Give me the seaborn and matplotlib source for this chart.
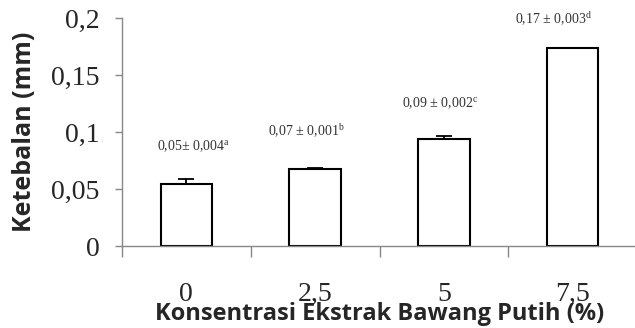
import matplotlib
matplotlib.use("Agg")
import matplotlib.pyplot as plt
import seaborn as sns
import numpy as np
import pandas as pd

# Thickness by garlic extract concentration
konsentrasi = ["0", "2,5", "5", "7,5"]
ketebalan = [0.054, 0.0675, 0.094, 0.1735]
sd_bar = [0.0044, 0.0012, 0.0025, 0.0]
label_nilai = ["0,05± 0,004", "0,07 ± 0,001", "0,09 ± 0,002", "0,17 ± 0,003"]
notasi = ["a", "b", "c", "d"]
yticks = [0, 0.05, 0.1, 0.15, 0.2]
ytick_labels = ["0", "0,05", "0,1", "0,15", "0,2"]

# placement of the value labels (category offset, height in data units)
label_dx = [0.055, -0.07, -0.03, -0.15]
label_y = [0.0877, 0.1009, 0.1254, 0.199]

sns.set_style("white")
plt.rcParams["mathtext.fontset"] = "custom"
plt.rcParams["mathtext.rm"] = "Liberation Serif"
plt.rcParams["mathtext.it"] = "Liberation Serif"

df = pd.DataFrame({"konsentrasi": konsentrasi, "ketebalan": ketebalan})

fig = plt.figure(figsize=(6.35, 3.28), dpi=100)
ax = fig.add_axes([122 / 635, 82 / 328, 515 / 635, 228 / 328])

sns.barplot(data=df, x="konsentrasi", y="ketebalan", ax=ax, color="white",
            edgecolor="black", linewidth=1.5, width=0.4, errorbar=None)
xpos = np.arange(len(konsentrasi))
has_err = np.array(sd_bar) > 0
ax.errorbar(xpos[has_err], np.array(ketebalan)[has_err],
            yerr=[np.zeros(has_err.sum()), np.array(sd_bar)[has_err]],
            fmt="none", ecolor="black", elinewidth=1.3, capsize=6, capthick=1.3)

# value labels with significance letters
for i in range(len(konsentrasi)):
    ax.text(xpos[i] + label_dx[i], label_y[i],
            label_nilai[i] + r"$^{\mathrm{" + notasi[i] + "}}$",
            ha="center", va="center", fontsize=10, color="#333333",
            family="Liberation Serif")

ax.set_xlim(-0.5, 3.5)
ax.set_ylim(0, 0.2)
ax.set_yticks(yticks)
ax.set_yticklabels(ytick_labels, family="Liberation Serif", fontsize=20)
ax.set_xticks(xpos)
ax.set_xticklabels(konsentrasi, family="Liberation Serif", fontsize=20)
ax.set_xticks([-0.5, 0.5, 1.5, 2.5, 3.5], minor=True)
ax.tick_params(axis="x", which="major", length=0, pad=26)
ax.tick_params(axis="x", which="minor", length=8, width=1, color="#888888",
               direction="out", bottom=True)
ax.tick_params(axis="y", which="major", length=5, width=1, color="#888888",
               direction="out", left=True, pad=11)

for s in ["top", "right"]:
    ax.spines[s].set_visible(False)
for s in ["left", "bottom"]:
    ax.spines[s].set_color("#888888")
    ax.spines[s].set_linewidth(1)

ax.set_ylabel("Ketebalan (mm)", family="Open Sans", fontweight="bold",
              fontsize=18, labelpad=10)
ax.set_xlabel("Konsentrasi Ekstrak Bawang Putih (%)", family="Open Sans",
              fontweight="bold", fontsize=17, labelpad=-4)

fig.savefig("out.png", dpi=100)
